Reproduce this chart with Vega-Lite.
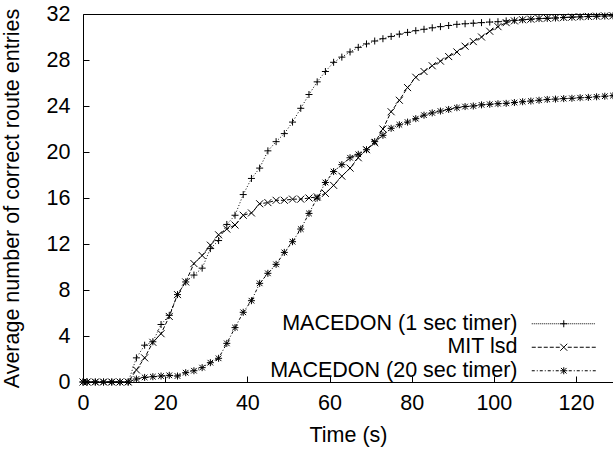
{
  "$schema": "https://vega.github.io/schema/vega-lite/v6.json",
  "autosize": {"type": "none"},
  "padding": {"left": 83, "top": 14, "right": 0, "bottom": 69},
  "width": 530,
  "height": 368,
  "background": "white",
  "datasets": {
    "d": [
      {"s":"MACEDON (1 sec timer)","t":0,"v":0},{"s":"MACEDON (1 sec timer)","t":1,"v":0},{"s":"MACEDON (1 sec timer)","t":3,"v":0},{"s":"MACEDON (1 sec timer)","t":5,"v":0},{"s":"MACEDON (1 sec timer)","t":7,"v":0},{"s":"MACEDON (1 sec timer)","t":9,"v":0},{"s":"MACEDON (1 sec timer)","t":11,"v":0},
      {"s":"MACEDON (1 sec timer)","t":13,"v":2.1},{"s":"MACEDON (1 sec timer)","t":15,"v":3.2},{"s":"MACEDON (1 sec timer)","t":17,"v":3.5},{"s":"MACEDON (1 sec timer)","t":19,"v":5.0},{"s":"MACEDON (1 sec timer)","t":21,"v":5.8},{"s":"MACEDON (1 sec timer)","t":23,"v":7.6},{"s":"MACEDON (1 sec timer)","t":25,"v":8.7},{"s":"MACEDON (1 sec timer)","t":27,"v":9.3},{"s":"MACEDON (1 sec timer)","t":29,"v":9.9},{"s":"MACEDON (1 sec timer)","t":31,"v":11.6},{"s":"MACEDON (1 sec timer)","t":33,"v":12.3},{"s":"MACEDON (1 sec timer)","t":35,"v":13.7},{"s":"MACEDON (1 sec timer)","t":37,"v":14.5},{"s":"MACEDON (1 sec timer)","t":39,"v":16.3},{"s":"MACEDON (1 sec timer)","t":41,"v":17.7},{"s":"MACEDON (1 sec timer)","t":43,"v":18.6},{"s":"MACEDON (1 sec timer)","t":45,"v":20.1},{"s":"MACEDON (1 sec timer)","t":47,"v":20.9},{"s":"MACEDON (1 sec timer)","t":49,"v":21.6},{"s":"MACEDON (1 sec timer)","t":51,"v":22.6},{"s":"MACEDON (1 sec timer)","t":53,"v":23.8},{"s":"MACEDON (1 sec timer)","t":55,"v":25.0},{"s":"MACEDON (1 sec timer)","t":57,"v":26.1},{"s":"MACEDON (1 sec timer)","t":59,"v":27.0},{"s":"MACEDON (1 sec timer)","t":61,"v":27.8},{"s":"MACEDON (1 sec timer)","t":63,"v":28.25},{"s":"MACEDON (1 sec timer)","t":65,"v":28.7},{"s":"MACEDON (1 sec timer)","t":67,"v":29.1},{"s":"MACEDON (1 sec timer)","t":69,"v":29.4},{"s":"MACEDON (1 sec timer)","t":71,"v":29.65},{"s":"MACEDON (1 sec timer)","t":73,"v":29.85},{"s":"MACEDON (1 sec timer)","t":75,"v":30.05},{"s":"MACEDON (1 sec timer)","t":77,"v":30.25},{"s":"MACEDON (1 sec timer)","t":79,"v":30.4},{"s":"MACEDON (1 sec timer)","t":81,"v":30.55},{"s":"MACEDON (1 sec timer)","t":83,"v":30.67},{"s":"MACEDON (1 sec timer)","t":85,"v":30.8},{"s":"MACEDON (1 sec timer)","t":87,"v":30.9},{"s":"MACEDON (1 sec timer)","t":89,"v":31.0},{"s":"MACEDON (1 sec timer)","t":91,"v":31.1},{"s":"MACEDON (1 sec timer)","t":93,"v":31.15},{"s":"MACEDON (1 sec timer)","t":95,"v":31.2},{"s":"MACEDON (1 sec timer)","t":97,"v":31.25},{"s":"MACEDON (1 sec timer)","t":99,"v":31.3},{"s":"MACEDON (1 sec timer)","t":101,"v":31.33},{"s":"MACEDON (1 sec timer)","t":103,"v":31.4},{"s":"MACEDON (1 sec timer)","t":105,"v":31.45},{"s":"MACEDON (1 sec timer)","t":107,"v":31.5},{"s":"MACEDON (1 sec timer)","t":109,"v":31.55},{"s":"MACEDON (1 sec timer)","t":111,"v":31.6},{"s":"MACEDON (1 sec timer)","t":113,"v":31.62},{"s":"MACEDON (1 sec timer)","t":115,"v":31.65},{"s":"MACEDON (1 sec timer)","t":117,"v":31.7},{"s":"MACEDON (1 sec timer)","t":119,"v":31.72},{"s":"MACEDON (1 sec timer)","t":121,"v":31.75},{"s":"MACEDON (1 sec timer)","t":123,"v":31.78},{"s":"MACEDON (1 sec timer)","t":125,"v":31.8},{"s":"MACEDON (1 sec timer)","t":127,"v":31.82},{"s":"MACEDON (1 sec timer)","t":129,"v":31.84},
      {"s":"MIT lsd","t":0,"v":0},{"s":"MIT lsd","t":1,"v":0},{"s":"MIT lsd","t":3,"v":0},{"s":"MIT lsd","t":5,"v":0},{"s":"MIT lsd","t":7,"v":0},{"s":"MIT lsd","t":9,"v":0},{"s":"MIT lsd","t":11,"v":0},
      {"s":"MIT lsd","t":13,"v":1.05},{"s":"MIT lsd","t":15,"v":2.1},{"s":"MIT lsd","t":17,"v":3.45},{"s":"MIT lsd","t":19,"v":4.2},{"s":"MIT lsd","t":21,"v":5.7},{"s":"MIT lsd","t":23,"v":7.6},{"s":"MIT lsd","t":25,"v":8.7},{"s":"MIT lsd","t":27,"v":10.3},{"s":"MIT lsd","t":29,"v":11.0},{"s":"MIT lsd","t":31,"v":11.9},{"s":"MIT lsd","t":33,"v":12.8},{"s":"MIT lsd","t":35,"v":13.3},{"s":"MIT lsd","t":37,"v":13.65},{"s":"MIT lsd","t":39,"v":14.5},{"s":"MIT lsd","t":41,"v":14.7},{"s":"MIT lsd","t":43,"v":15.5},{"s":"MIT lsd","t":45,"v":15.6},{"s":"MIT lsd","t":47,"v":15.8},{"s":"MIT lsd","t":49,"v":15.8},{"s":"MIT lsd","t":51,"v":15.9},{"s":"MIT lsd","t":53,"v":15.9},{"s":"MIT lsd","t":55,"v":16.0},{"s":"MIT lsd","t":57,"v":16.1},{"s":"MIT lsd","t":59,"v":16.4},{"s":"MIT lsd","t":61,"v":17.1},{"s":"MIT lsd","t":63,"v":17.9},{"s":"MIT lsd","t":65,"v":18.6},{"s":"MIT lsd","t":67,"v":19.5},{"s":"MIT lsd","t":69,"v":20.2},{"s":"MIT lsd","t":71,"v":20.8},{"s":"MIT lsd","t":73,"v":22.0},{"s":"MIT lsd","t":75,"v":23.5},{"s":"MIT lsd","t":77,"v":24.5},{"s":"MIT lsd","t":79,"v":25.6},{"s":"MIT lsd","t":81,"v":26.5},{"s":"MIT lsd","t":83,"v":27.0},{"s":"MIT lsd","t":85,"v":27.5},{"s":"MIT lsd","t":87,"v":27.9},{"s":"MIT lsd","t":89,"v":28.3},{"s":"MIT lsd","t":91,"v":28.7},{"s":"MIT lsd","t":93,"v":29.2},{"s":"MIT lsd","t":95,"v":29.6},{"s":"MIT lsd","t":97,"v":30.0},{"s":"MIT lsd","t":99,"v":30.5},{"s":"MIT lsd","t":101,"v":30.9},{"s":"MIT lsd","t":103,"v":31.25},{"s":"MIT lsd","t":105,"v":31.4},{"s":"MIT lsd","t":107,"v":31.5},{"s":"MIT lsd","t":109,"v":31.55},{"s":"MIT lsd","t":111,"v":31.6},{"s":"MIT lsd","t":113,"v":31.63},{"s":"MIT lsd","t":115,"v":31.66},{"s":"MIT lsd","t":117,"v":31.7},{"s":"MIT lsd","t":119,"v":31.73},{"s":"MIT lsd","t":121,"v":31.76},{"s":"MIT lsd","t":123,"v":31.79},{"s":"MIT lsd","t":125,"v":31.81},{"s":"MIT lsd","t":127,"v":31.83},{"s":"MIT lsd","t":129,"v":31.85},
      {"s":"MACEDON (20 sec timer)","t":0,"v":0},{"s":"MACEDON (20 sec timer)","t":1,"v":0},{"s":"MACEDON (20 sec timer)","t":3,"v":0},{"s":"MACEDON (20 sec timer)","t":5,"v":0},{"s":"MACEDON (20 sec timer)","t":7,"v":0},{"s":"MACEDON (20 sec timer)","t":9,"v":0},{"s":"MACEDON (20 sec timer)","t":11,"v":0},
      {"s":"MACEDON (20 sec timer)","t":13,"v":0.26},{"s":"MACEDON (20 sec timer)","t":15,"v":0.4},{"s":"MACEDON (20 sec timer)","t":17,"v":0.46},{"s":"MACEDON (20 sec timer)","t":19,"v":0.52},{"s":"MACEDON (20 sec timer)","t":21,"v":0.58},{"s":"MACEDON (20 sec timer)","t":23,"v":0.52},{"s":"MACEDON (20 sec timer)","t":25,"v":0.81},{"s":"MACEDON (20 sec timer)","t":27,"v":0.98},{"s":"MACEDON (20 sec timer)","t":29,"v":1.25},{"s":"MACEDON (20 sec timer)","t":31,"v":1.68},{"s":"MACEDON (20 sec timer)","t":33,"v":2.06},{"s":"MACEDON (20 sec timer)","t":35,"v":3.36},{"s":"MACEDON (20 sec timer)","t":37,"v":4.73},{"s":"MACEDON (20 sec timer)","t":39,"v":6.06},{"s":"MACEDON (20 sec timer)","t":41,"v":7.07},{"s":"MACEDON (20 sec timer)","t":43,"v":8.58},{"s":"MACEDON (20 sec timer)","t":45,"v":9.45},{"s":"MACEDON (20 sec timer)","t":47,"v":10.23},{"s":"MACEDON (20 sec timer)","t":49,"v":11.27},{"s":"MACEDON (20 sec timer)","t":51,"v":12.2},{"s":"MACEDON (20 sec timer)","t":53,"v":13.3},{"s":"MACEDON (20 sec timer)","t":55,"v":14.66},{"s":"MACEDON (20 sec timer)","t":57,"v":16.0},{"s":"MACEDON (20 sec timer)","t":59,"v":17.35},{"s":"MACEDON (20 sec timer)","t":61,"v":18.3},{"s":"MACEDON (20 sec timer)","t":63,"v":18.9},{"s":"MACEDON (20 sec timer)","t":65,"v":19.5},{"s":"MACEDON (20 sec timer)","t":67,"v":19.8},{"s":"MACEDON (20 sec timer)","t":69,"v":20.2},{"s":"MACEDON (20 sec timer)","t":71,"v":20.9},{"s":"MACEDON (20 sec timer)","t":73,"v":21.45},{"s":"MACEDON (20 sec timer)","t":75,"v":22.06},{"s":"MACEDON (20 sec timer)","t":77,"v":22.37},{"s":"MACEDON (20 sec timer)","t":79,"v":22.6},{"s":"MACEDON (20 sec timer)","t":81,"v":22.9},{"s":"MACEDON (20 sec timer)","t":83,"v":23.2},{"s":"MACEDON (20 sec timer)","t":85,"v":23.4},{"s":"MACEDON (20 sec timer)","t":87,"v":23.56},{"s":"MACEDON (20 sec timer)","t":89,"v":23.7},{"s":"MACEDON (20 sec timer)","t":91,"v":23.85},{"s":"MACEDON (20 sec timer)","t":93,"v":23.95},{"s":"MACEDON (20 sec timer)","t":95,"v":24.0},{"s":"MACEDON (20 sec timer)","t":97,"v":24.1},{"s":"MACEDON (20 sec timer)","t":99,"v":24.15},{"s":"MACEDON (20 sec timer)","t":101,"v":24.2},{"s":"MACEDON (20 sec timer)","t":103,"v":24.23},{"s":"MACEDON (20 sec timer)","t":105,"v":24.3},{"s":"MACEDON (20 sec timer)","t":107,"v":24.37},{"s":"MACEDON (20 sec timer)","t":109,"v":24.43},{"s":"MACEDON (20 sec timer)","t":111,"v":24.5},{"s":"MACEDON (20 sec timer)","t":113,"v":24.57},{"s":"MACEDON (20 sec timer)","t":115,"v":24.6},{"s":"MACEDON (20 sec timer)","t":117,"v":24.64},{"s":"MACEDON (20 sec timer)","t":119,"v":24.67},{"s":"MACEDON (20 sec timer)","t":121,"v":24.72},{"s":"MACEDON (20 sec timer)","t":123,"v":24.75},{"s":"MACEDON (20 sec timer)","t":125,"v":24.8},{"s":"MACEDON (20 sec timer)","t":127,"v":24.85},{"s":"MACEDON (20 sec timer)","t":129,"v":24.9}
    ]
  },
  "data": {"name": "d"},
  "layer": [
    {
      "mark": {"type": "line", "strokeWidth": 1, "color": "black"},
      "encoding": {
        "x": {"field": "t", "type": "quantitative", "scale": {"domain": [0, 129], "nice": false, "zero": false},
              "axis": {"orient": "bottom", "values": [0,20,40,60,80,100,120], "title": "Time (s)", "titlePadding": 11, "labelPadding": 16}},
        "y": {"field": "v", "type": "quantitative", "scale": {"domain": [0, 32], "nice": false},
              "axis": {"values": [0,4,8,12,16,20,24,28,32], "title": "Average number of correct route entries", "labelPadding": 19, "titlePadding": 23}},
        "detail": {"field": "s"},
        "strokeDash": {"field": "s", "type": "nominal", "legend": null,
          "scale": {"domain": ["MACEDON (20 sec timer)", "MIT lsd", "MACEDON (1 sec timer)"], "range": [[3,2,1,2],[4,2],[1,2]]}}
      }
    },
    {
      "mark": {"type": "point", "filled": false, "strokeWidth": 1, "size": 64, "opacity": 1, "color": "black"},
      "encoding": {
        "x": {"field": "t", "type": "quantitative",
              "axis": {"orient": "top", "labels": false, "ticks": false, "title": null, "domain": true}},
        "y": {"field": "v", "type": "quantitative"},
        "shape": {"field": "s", "type": "nominal", "legend": null,
          "scale": {"domain": ["MIT lsd", "MACEDON (1 sec timer)", "MACEDON (20 sec timer)"],
                    "range": ["M-0.875,-0.875L0.875,0.875M-0.875,0.875L0.875,-0.875", "M-0.875,0H0.875M0,-0.875V0.875", "M-0.875,0H0.875M0,-0.875V0.875M-0.7,-0.7L0.7,0.7M-0.7,0.7L0.7,-0.7"]}}
      }
    },
    {
      "transform": [{"filter": "datum.t < 0"}],
      "mark": {"type": "point", "filled": false, "strokeWidth": 1, "size": 64, "opacity": 1, "color": "black"},
      "encoding": {
        "shape": {"field": "s", "type": "nominal",
          "scale": {"domain": ["MACEDON (1 sec timer)", "MIT lsd", "MACEDON (20 sec timer)"],
                    "range": [
                      "M-8,0h0.25M-7.5,0h0.25M-7,0h0.25M-6.5,0h0.25M-6,0h0.25M-5.5,0h0.25M-5,0h0.25M-4.5,0h0.25M-4,0h0.25M-3.5,0h0.25M-3,0h0.25M-2.5,0h0.25M-2,0h0.25M-1.5,0h0.25M-1,0h0.25M-0.5,0h0.25M0,0h0.25M0.5,0h0.25M1,0h0.25M1.5,0h0.25M2,0h0.25M2.5,0h0.25M3,0h0.25M3.5,0h0.25M4,0h0.25M4.5,0h0.25M5,0h0.25M5.5,0h0.25M6,0h0.25M6.5,0h0.25M7,0h0.25M7.5,0h0.25M-0.875,0H0.875M0,-0.875V0.875",
                      "M-8,0h1M-6.5,0h1M-5,0h1M-3.5,0h1M-2,0h1M1,0h1M2.5,0h1M4,0h1M5.5,0h1M7,0h1M-0.875,-0.875L0.875,0.875M-0.875,0.875L0.875,-0.875",
                      "M-8,0h0.75M-6.75,0h0.25M-6,0h0.75M-4.75,0h0.25M-4,0h0.75M-2.75,0h0.25M-2,0h0.75M1.25,0h0.75M2.5,0h0.25M3.25,0h0.75M4.5,0h0.25M5.25,0h0.75M6.5,0h0.25M7.25,0h0.75M-0.875,0H0.875M0,-0.875V0.875M-0.7,-0.7L0.7,0.7M-0.7,0.7L0.7,-0.7"
                    ]},
          "legend": {
            "orient": "none", "legendX": 470, "legendY": 299, "title": null,
            "labelAlign": "right", "labelOffset": -57, "labelFontSize": 21.5, "labelFont": "Liberation Sans", "labelColor": "black",
            "symbolSize": 64, "symbolStrokeWidth": 1, "symbolStrokeColor": "black", "symbolFillColor": "transparent", "symbolOpacity": 1,
            "rowPadding": 0.5, "padding": 0, "labelLimit": 400
          }
        }
      }
    }
  ],
  "resolve": {"axis": {"x": "independent"}, "scale": {"shape": "independent"}, "legend": {"shape": "independent"}},
  "config": {
    "view": {"stroke": null},
    "font": "Liberation Sans",
    "axis": {"labelFont": "Liberation Sans", "titleFont": "Liberation Sans", "labelFontSize": 21.5, "titleFontSize": 21.5, "titleFontWeight": "normal",
             "labelColor": "black", "titleColor": "black", "domainColor": "black", "tickColor": "black", "grid": false,
             "tickSize": -6, "labelFlush": false, "labelOverlap": false, "domainWidth": 1, "tickWidth": 1}
  }
}
